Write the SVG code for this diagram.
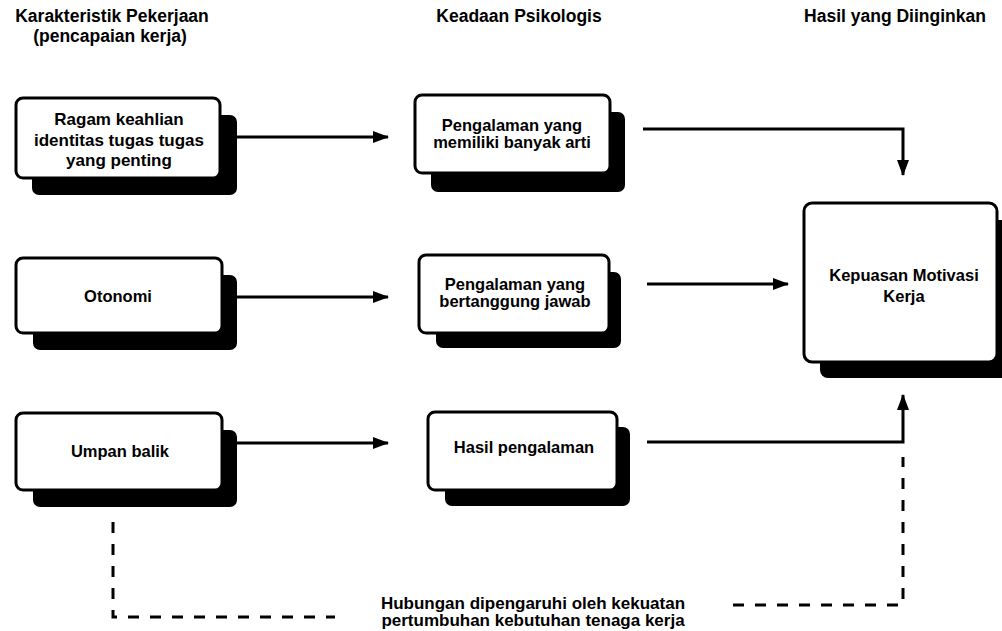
<svg xmlns="http://www.w3.org/2000/svg" width="1002" height="631" viewBox="0 0 1002 631">
<style>
.t{font-family:"Liberation Sans",Arial,sans-serif;font-weight:bold;fill:#000;text-anchor:middle}
.h{font-size:17.5px}
.b{font-size:16.5px}
.front{fill:#fff;stroke:#000;stroke-width:3}
.shadow{fill:#000}
.c{fill:none;stroke:#000;stroke-width:3}
.d{fill:none;stroke:#000;stroke-width:3;stroke-dasharray:11 11}
</style>
<defs>
<marker id="ah" markerUnits="userSpaceOnUse" markerWidth="16" markerHeight="14" refX="15" refY="7" orient="auto">
<path d="M0,1 L16,7 L0,13 Z" fill="#000"/>
</marker>
</defs>
<rect width="1002" height="631" fill="#fff"/>
<g id="headers">
<text class="t h" x="112" y="22">Karakteristik Pekerjaan</text>
<text class="t h" x="110" y="42">(pencapaian kerja)</text>
<text class="t h" x="519" y="22">Keadaan Psikologis</text>
<text class="t h" x="895" y="22">Hasil yang Diinginkan</text>
</g>
<g id="connectors">
<path class="c" d="M237,137 H388" marker-end="url(#ah)"/>
<path class="c" d="M643,129 H903 V175" marker-end="url(#ah)"/>
<path class="c" d="M237,297 H388" marker-end="url(#ah)"/>
<path class="c" d="M647,284 H788" marker-end="url(#ah)"/>
<path class="c" d="M237,443 H388" marker-end="url(#ah)"/>
<path class="c" d="M647,442 H903 V395" marker-end="url(#ah)"/>
<path class="d" d="M113,522 V617 H335"/>
<path class="d" d="M733,605 H903 V457"/>
</g>
<g id="node-ragam">
<rect class="shadow" x="32" y="115" width="205" height="80" rx="7"/>
<rect class="front" x="16" y="98" width="204" height="80" rx="7"/>
<text class="t" font-size="17" x="119" y="125">Ragam keahlian</text>
<text class="t" font-size="17" x="119" y="146">identitas tugas tugas</text>
<text class="t" font-size="17" x="119" y="166">yang penting</text>
</g>
<g id="node-otonomi">
<rect class="shadow" x="33" y="275" width="204" height="75" rx="7"/>
<rect class="front" x="16" y="258" width="206" height="75" rx="7"/>
<text class="t b" x="118" y="302">Otonomi</text>
</g>
<g id="node-umpan">
<rect class="shadow" x="33" y="430" width="204" height="77" rx="7"/>
<rect class="front" x="16" y="413" width="206" height="77" rx="7"/>
<text class="t b" x="120" y="457" font-size="17">Umpan balik</text>
</g>
<g id="node-arti">
<rect class="shadow" x="431" y="112" width="194" height="80" rx="7"/>
<rect class="front" x="415" y="95" width="195" height="78" rx="7"/>
<text class="t b" x="512" y="131">Pengalaman yang</text>
<text class="t b" x="512" y="148">memiliki banyak arti</text>
</g>
<g id="node-tanggung">
<rect class="shadow" x="436" y="272" width="185" height="76" rx="7"/>
<rect class="front" x="419" y="255" width="190" height="78" rx="7"/>
<text class="t b" x="515" y="290">Pengalaman yang</text>
<text class="t b" x="515" y="307">bertanggung jawab</text>
</g>
<g id="node-hasil">
<rect class="shadow" x="445" y="427" width="185" height="79" rx="7"/>
<rect class="front" x="428" y="412" width="189" height="78" rx="7"/>
<text class="t b" x="524" y="453" font-size="17">Hasil pengalaman</text>
</g>
<g id="node-kepuasan">
<rect class="shadow" x="820" y="220" width="190" height="158" rx="8"/>
<rect class="front" x="804" y="203" width="193" height="159" rx="8"/>
<text class="t b" x="904" y="281" font-size="17">Kepuasan Motivasi</text>
<text class="t b" x="904" y="302" font-size="17">Kerja</text>
</g>
<g id="label-bottom">
<text class="t" font-size="17" x="533" y="609">Hubungan dipengaruhi oleh kekuatan</text>
<text class="t" font-size="17" x="533" y="626">pertumbuhan kebutuhan tenaga kerja</text>
</g>
</svg>
